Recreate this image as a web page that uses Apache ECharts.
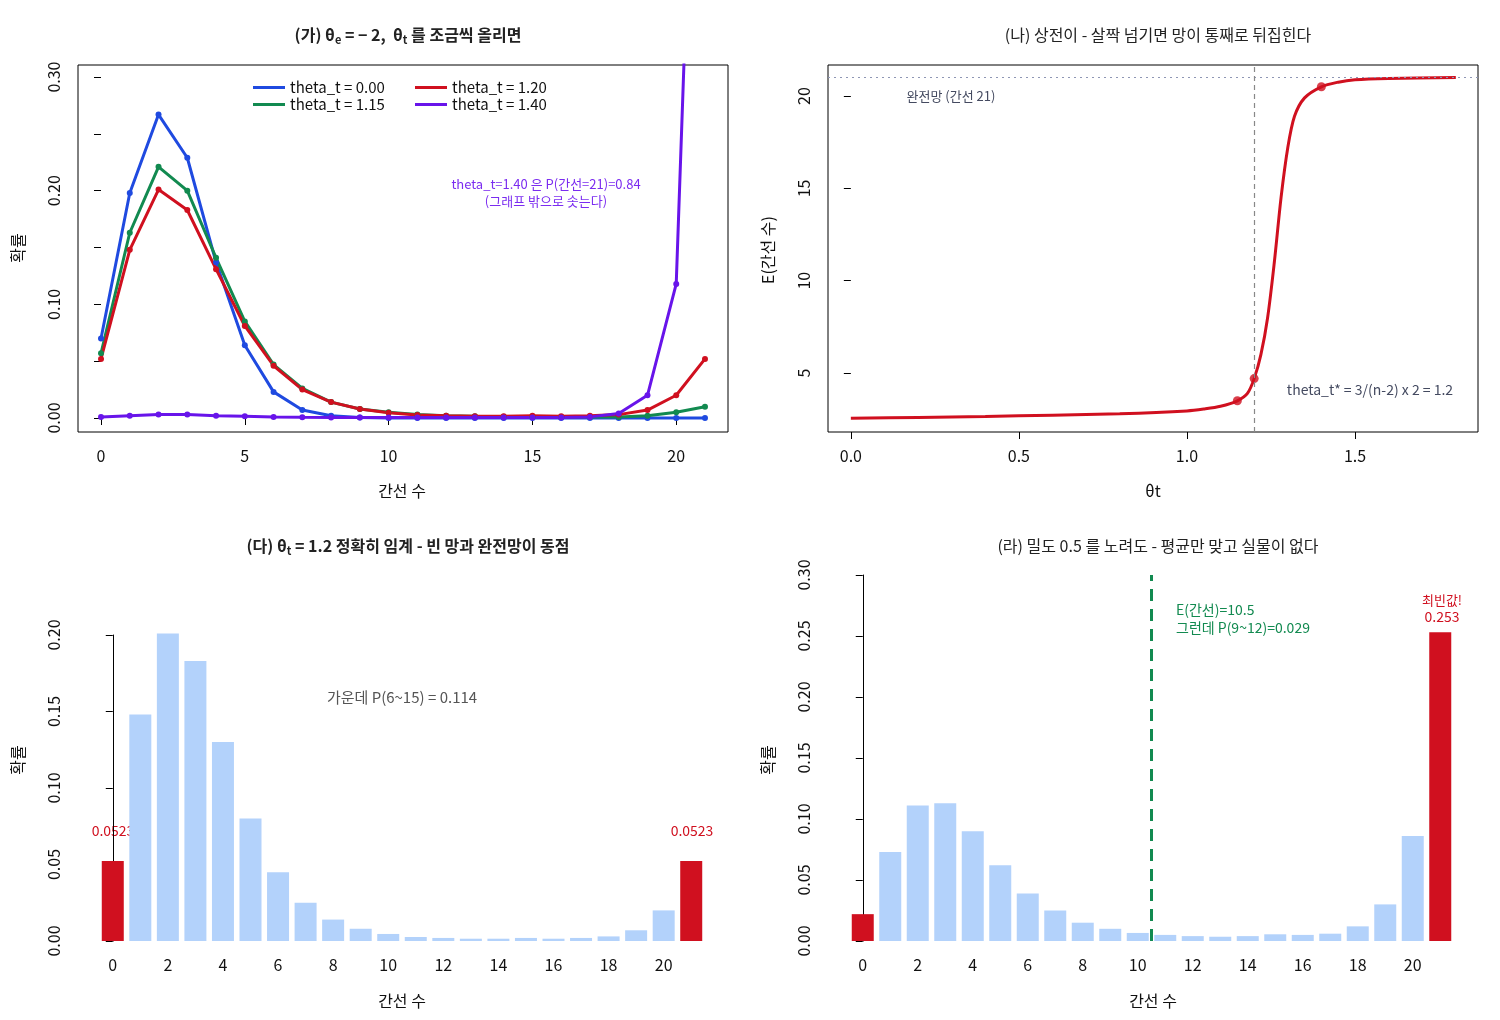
<!DOCTYPE html>
<html><head><meta charset="utf-8">
<script src="https://cdn.jsdelivr.net/npm/echarts@6/dist/echarts.min.js"></script>
<style>html,body{margin:0;padding:0;background:#fff}#main{width:1500px;height:1020px}</style>
</head><body><div id="main"></div>
<script>
var FONT = 'Noto Sans CJK KR';
// (가) 간선 수 분포
var edges = [];
for (var i = 0; i <= 21; i++) edges.push(i);
var p000 = [0.070,0.198,0.267,0.229,0.137,0.064,0.023,0.007,0.002,0.0005,0,0,0,0,0,0,0,0,0,0,0,0];
var p115 = [0.057,0.163,0.221,0.200,0.141,0.085,0.047,0.026,0.014,0.008,0.005,0.003,0.002,0.0015,0.0012,0.001,0.001,0.001,0.001,0.002,0.005,0.010];
var p120 = [0.052,0.148,0.201,0.183,0.131,0.081,0.046,0.025,0.014,0.008,0.0046,0.0026,0.002,0.0015,0.0015,0.002,0.0015,0.002,0.003,0.007,0.020,0.052];
var p140 = [0.001,0.002,0.003,0.003,0.002,0.0015,0.001,0.0007,0.0005,0.0005,0.0005,0.0005,0.0005,0.0005,0.0005,0.0005,0.0005,0.001,0.004,0.020,0.118,0.84];
// (나) E(간선 수) 곡선
var thetaX = [0,0.2,0.4,0.6,0.8,1.0,1.05,1.1,1.15,1.18,1.2,1.22,1.24,1.26,1.28,1.30,1.32,1.35,1.4,1.45,1.5,1.6,1.8];
var expY = [2.55,2.6,2.65,2.72,2.8,2.95,3.05,3.2,3.5,3.9,4.7,6.0,8.0,11.0,14.5,17.2,18.9,19.9,20.5,20.75,20.88,20.95,21.0];
var markTheta = [[1.15,3.5],[1.2,4.7],[1.4,20.5]];
// (다) theta_t = 1.2
var bar12 = [0.0523,0.148,0.201,0.183,0.130,0.080,0.045,0.025,0.014,0.008,0.0046,0.0026,0.002,0.0015,0.0015,0.002,0.0015,0.002,0.003,0.007,0.020,0.0523];
// (라) 밀도 0.5
var bar05 = [0.022,0.073,0.111,0.113,0.090,0.062,0.039,0.025,0.015,0.010,0.0066,0.005,0.004,0.0035,0.004,0.0055,0.005,0.006,0.012,0.030,0.086,0.253];
var evenTicks = [0,2,4,6,8,10,12,14,16,18,20];

var C = {blue:'#1f4ae0', green:'#128a50', red:'#d0101f', purple:'#6814ea', light:'#b3d2fb'};

function pairs(xs, ys) { return xs.map(function (x, i) { return [x, ys[i]]; }); }
function barData(vals) {
    return vals.map(function (v, i) {
        var end = (i === 0 || i === 21);
        return {value: [i, v], itemStyle: {color: end ? C.red : C.light}};
    });
}
function xAx(idx, min, max, ticks, fmt, opt) {
    return Object.assign({
        type: 'value', gridIndex: idx, min: min, max: max,
        axisLine: {show: false}, splitLine: {show: false},
        axisTick: {show: true, customValues: ticks, length: 7, lineStyle: {color: '#000'}},
        axisLabel: {customValues: ticks, color: '#111', fontSize: 16, fontFamily: FONT, margin: 16, formatter: fmt}
    }, opt || {});
}
function yAx(idx, min, max, ticks, fmt, opt) {
    return Object.assign({
        type: 'value', gridIndex: idx, min: min, max: max,
        axisLine: {show: false}, splitLine: {show: false},
        axisTick: {show: true, customValues: ticks, length: 7, lineStyle: {color: '#000'}},
        axisLabel: {customValues: ticks, rotate: 90, color: '#111', fontSize: 16, fontFamily: FONT, margin: 16, formatter: fmt}
    }, opt || {});
}
function f2(v) { return v.toFixed(2); }
function f1(v) { return v.toFixed(1); }
function f0(v) { return String(v); }
function txt(x, y, s, color, size, extra) {
    return Object.assign({type: 'text', x: x, y: y, style: {text: s, fill: color, font: (size || 14) + 'px "' + FONT + '"', textAlign: 'center', textVerticalAlign: 'middle'}}, extra || {});
}
function rtxt(x, y, s) {
    return {type: 'text', x: x, y: y, rotation: Math.PI / 2, style: {text: s, fill: '#111', font: '16px "' + FONT + '"', textAlign: 'center', textVerticalAlign: 'middle'}};
}
function lineSeries(name, vals, color) {
    return {name: name, type: 'line', xAxisIndex: 0, yAxisIndex: 0, data: pairs(edges, vals),
        symbol: 'circle', symbolSize: 6, lineStyle: {color: color, width: 3}, itemStyle: {color: color}, clip: true, z: 3};
}

var titleRich = {
    t: {fontSize: 16, fontFamily: FONT, color: '#222'},
    s: {fontSize: 11, fontFamily: FONT, color: '#222', padding: [9, 0, 0, 0]}
};

var myChart = echarts.init(document.getElementById('main'));
myChart.setOption({
    animation: false,
    backgroundColor: '#fff',
    textStyle: {fontFamily: FONT},
    title: [
        {text: '{t|(가) θ}{s|e}{t| = − 2,  θ}{s|t}{t| 를 조금씩 올리면}', left: 403, top: 20, textAlign: 'center', textStyle: {rich: titleRich}},
        {text: '(나) 상전이 - 살짝 넘기면 망이 통째로 뒤집힌다', left: 1153, top: 22, textAlign: 'center', textStyle: {fontSize: 16, fontWeight: 'normal', color: '#222', fontFamily: FONT}},
        {text: '{t|(다) θ}{s|t}{t| = 1.2 정확히 임계 - 빈 망과 완전망이 동점}', left: 403, top: 531, textAlign: 'center', textStyle: {rich: titleRich}},
        {text: '(라) 밀도 0.5 를 노려도 - 평균만 맞고 실물이 없다', left: 1153, top: 533, textAlign: 'center', textStyle: {fontSize: 16, fontWeight: 'normal', color: '#222', fontFamily: FONT}}
    ],
    legend: [
        {data: ['theta_t = 0.00', 'theta_t = 1.15'], orient: 'vertical', left: 248, top: 75, itemGap: 2, itemWidth: 32, itemHeight: 3, icon: 'rect',
            textStyle: {fontSize: 15, color: '#111', fontFamily: FONT}},
        {data: ['theta_t = 1.20', 'theta_t = 1.40'], orient: 'vertical', left: 410, top: 75, itemGap: 2, itemWidth: 32, itemHeight: 3, icon: 'rect',
            textStyle: {fontSize: 15, color: '#111', fontFamily: FONT}}
    ],
    grid: [
        {left: 78, top: 65, width: 650, height: 367, show: true, borderColor: '#000', borderWidth: 1},
        {left: 828, top: 65, width: 650, height: 367, show: true, borderColor: '#000', borderWidth: 1},
        {left: 99, top: 635, width: 606, height: 306},
        {left: 849, top: 575, width: 605, height: 366}
    ],
    xAxis: [
        xAx(0, -0.8, 21.8, [0, 5, 10, 15, 20], f0),
        xAx(1, -0.068, 1.866, [0, 0.5, 1, 1.5], f1),
        xAx(2, -0.5, 21.5, evenTicks, f0, {axisTick: {show: false}, axisLabel: {customValues: evenTicks, color: '#111', fontSize: 16, fontFamily: FONT, margin: 16}}),
        xAx(3, -0.5, 21.5, evenTicks, f0, {axisTick: {show: false}, axisLabel: {customValues: evenTicks, color: '#111', fontSize: 16, fontFamily: FONT, margin: 16}})
    ],
    yAxis: [
        yAx(0, -0.0123, 0.3106, [0, 0.05, 0.1, 0.15, 0.2, 0.25, 0.3], function (v) { return Math.round(v * 100) % 10 === 0 ? f2(v) : ''; }),
        yAx(1, 1.81, 21.68, [5, 10, 15, 20], f0),
        yAx(2, 0, 0.2, [0, 0.05, 0.1, 0.15, 0.2], f2, {offset: 21, axisLine: {show: true, lineStyle: {color: '#000'}}}),
        yAx(3, 0, 0.3, [0, 0.05, 0.1, 0.15, 0.2, 0.25, 0.3], f2, {offset: 21, axisLine: {show: true, lineStyle: {color: '#000'}}})
    ],
    series: [
        lineSeries('theta_t = 0.00', p000, C.blue),
        lineSeries('theta_t = 1.15', p115, C.green),
        lineSeries('theta_t = 1.20', p120, C.red),
        lineSeries('theta_t = 1.40', p140, C.purple),
        {type: 'line', xAxisIndex: 1, yAxisIndex: 1, data: pairs(thetaX, expY), smooth: 0.3, showSymbol: false,
            lineStyle: {color: C.red, width: 3}, z: 3,
            markLine: {silent: true, symbol: 'none', label: {show: false},
                data: [
                    {yAxis: 21, lineStyle: {color: '#8e96b4', type: [2, 4], width: 1.2}},
                    {xAxis: 1.2, lineStyle: {color: '#888', type: [5, 4], width: 1.2}}
                ]}},
        {type: 'scatter', xAxisIndex: 1, yAxisIndex: 1, data: markTheta, symbolSize: 9, itemStyle: {color: C.red}, z: 4},
        {type: 'bar', xAxisIndex: 2, yAxisIndex: 2, data: barData(bar12), barWidth: 22, clip: false},
        {type: 'bar', xAxisIndex: 3, yAxisIndex: 3, data: barData(bar05), barWidth: 22, clip: false,
            markLine: {silent: true, symbol: 'none', label: {show: false},
                data: [{xAxis: 10.5, lineStyle: {color: C.green, type: [12, 8], width: 3}}]}}
    ],
    graphic: [
        txt(402, 491, '간선 수', '#111', 16),
        rtxt(18, 248, '확률'),
        txt(1153, 491, 'θt', '#111', 16),
        rtxt(768, 250, 'E(간선 수)'),
        txt(402, 1001, '간선 수', '#111', 16),
        rtxt(18, 760, '확률'),
        txt(1153, 1001, '간선 수', '#111', 16),
        rtxt(768, 760, '확률'),
        txt(546, 184, 'theta_t=1.40 은 P(간선=21)=0.84', '#7b2cf0', 13),
        txt(546, 201, '(그래프 밖으로 솟는다)', '#7b2cf0', 13),
        txt(951, 96, '완전망 (간선 21)', '#444a60', 13),
        txt(1370, 390, 'theta_t* = 3/(n-2) x 2 = 1.2', '#444a60', 14),
        txt(402, 697, '가운데 P(6~15) = 0.114', '#555', 15),
        txt(113, 831, '0.0523', C.red, 14),
        txt(692, 831, '0.0523', C.red, 14),
        txt(1176, 610, 'E(간선)=10.5', C.green, 14, {style: {text: 'E(간선)=10.5', fill: C.green, font: '14px "' + FONT + '"', textAlign: 'left', textVerticalAlign: 'middle'}}),
        txt(1176, 628, '그런데 P(9~12)=0.029', C.green, 14, {style: {text: '그런데 P(9~12)=0.029', fill: C.green, font: '14px "' + FONT + '"', textAlign: 'left', textVerticalAlign: 'middle'}}),
        txt(1442, 600, '최빈값!', C.red, 13),
        txt(1442, 617, '0.253', C.red, 14)
    ]
});
</script>
</body></html>
